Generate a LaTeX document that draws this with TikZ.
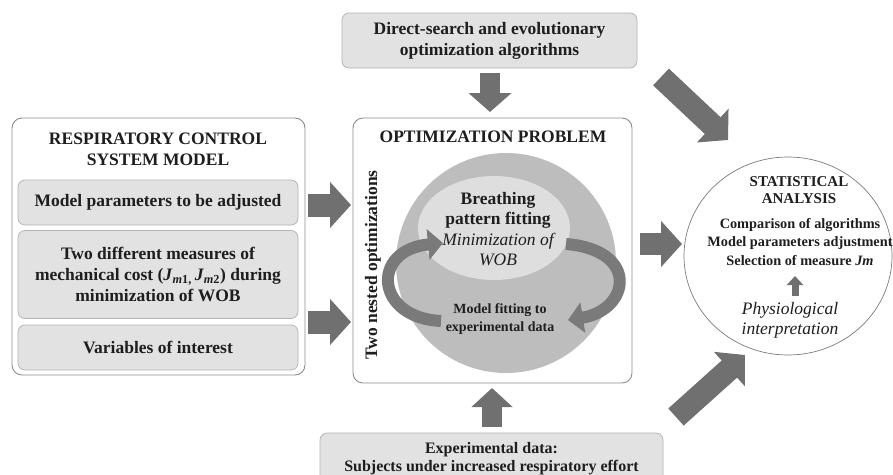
\documentclass[tikz,border=0pt]{standalone}
\usepackage{fontspec}
\setmainfont{Liberation Serif}
\usetikzlibrary{arrows.meta,shapes.geometric}
\definecolor{arrowgray}{HTML}{707070}
\definecolor{boxline}{HTML}{8C8C8C}
\definecolor{subfill}{HTML}{E2E2E2}
\definecolor{subline}{HTML}{B2B2B2}
\definecolor{bigcirc}{HTML}{BDBDBD}
\definecolor{ellfill}{HTML}{DEDEDE}
\definecolor{curvegray}{HTML}{7A7A7A}
\definecolor{statline}{HTML}{7C7C7C}
\definecolor{textcol}{HTML}{1E1E1E}
\tikzset{
  bigbox/.style={draw=boxline, fill=white, rounded corners=10pt, line width=0.9pt, inner sep=0pt},
  subbox/.style={draw=subline, fill=subfill, rounded corners=7pt, line width=0.7pt, inner sep=0pt, align=center},
  tbig/.style={font=\fontsize{17.5}{21}\selectfont\bfseries, text=textcol, inner sep=0pt, align=center},
  tmid/.style={font=\fontsize{16}{18}\selectfont\bfseries, text=textcol, inner sep=0pt, align=center},
  tsmall/.style={font=\fontsize{14}{18}\selectfont\bfseries, text=textcol, inner sep=0pt, align=center},
  tstat/.style={font=\fontsize{14.3}{18.5}\selectfont\bfseries, text=textcol, inner sep=0pt, align=center},
  tital/.style={font=\fontsize{17.5}{20}\selectfont\itshape, text=textcol, inner sep=0pt, align=center},
  blockarrow/.style={draw=arrowgray, line width=22pt, -{Triangle[width=45pt,length=21pt]}},
  vblockarrow/.style={draw=arrowgray, line width=20pt, -{Triangle[width=42pt,length=19pt]}},
  curvearrow/.style={draw=curvegray, line width=12pt, -{Triangle[width=30pt,length=15pt]}},
}
\begin{document}
\begin{tikzpicture}[x=1pt,y=-1pt]
\clip (0,0) rectangle (893,474);
\fill[white] (0,0) rectangle (893,474);

% ---------- left: model box ----------
\node[bigbox, minimum width=293pt, minimum height=257pt] (model) at (158.5,246.5) {};
\node[tbig] (modeltitle) at (158,149) {RESPIRATORY CONTROL\\SYSTEM MODEL};
\node[subbox, tbig, minimum width=280pt, minimum height=45pt] (par) at (158,202.5) {Model parameters to be adjusted};
\node[subbox, tbig, minimum width=280pt, minimum height=88pt] (cost) at (158,274.5)
  {Two different measures of\\mechanical cost (\textit{J}\textsubscript{\textit{m}1,}\,\textit{J}\textsubscript{\textit{m}2}) during\\minimization of WOB};
\node[subbox, tbig, minimum width=280pt, minimum height=45pt] (var) at (158,347.5) {Variables of interest};

% ---------- middle: optimization problem ----------
\node[bigbox, minimum width=279pt, minimum height=265pt] (opt) at (492.5,250.5) {};
\node[tbig] (opttitle) at (493,137) {OPTIMIZATION PROBLEM};
\node[circle, fill=bigcirc, minimum size=220pt, inner sep=0pt] (nest) at (506,263) {};
\node[ellipse, fill=ellfill, minimum width=152pt, minimum height=104pt, inner sep=0pt] (inner) at (494,228) {};
\node[inner sep=0pt, align=center, text=textcol, font=\fontsize{17.5}{20.5}\selectfont] (breath) at (498,229)
  {{\bfseries Breathing}\\{\bfseries pattern fitting}\\{\itshape Minimization of}\\{\itshape WOB}};
\node[tsmall] (mfit) at (500,319) {Model fitting to\\experimental data};
\node[tbig, rotate=90] (two) at (373,265) {Two nested optimizations};

\coordinate (l0) at (441,321);
\coordinate (l1) at (443,243);
\draw[curvearrow] (l0) .. controls (375,318) and (370,250) .. (l1);
\coordinate (r0) at (566,244);
\coordinate (r1) at (568,320);
\draw[curvearrow] (r0) .. controls (640,250) and (630,310) .. (r1);

% ---------- top and bottom boxes ----------
\node[subbox, tbig, minimum width=295pt, minimum height=55pt] (algo) at (489.5,40.5)
  {Direct-search and evolutionary\\optimization algorithms};
\node[subbox, tmid, minimum width=343pt, minimum height=52pt] (data) at (491.5,459)
  {Experimental data:\\Subjects under increased respiratory effort};

% ---------- right: statistical analysis ----------
\node[ellipse, draw=statline, fill=white, line width=0.7pt, minimum width=208pt, minimum height=198pt, inner sep=0pt] (stat) at (788,256) {};
\node[font=\fontsize{15}{16.5}\selectfont\bfseries, text=textcol, inner sep=0pt, align=center] (stattitle) at (799,190) {STATISTICAL\\ANALYSIS};
\node[tstat] (statitems) at (800,242) {Comparison of algorithms\\Model parameters adjustment\\Selection of measure \textit{Jm}};
\node[tital] (phys) at (790,320) {Physiological\\interpretation};
\coordinate (p0) at (795,296);
\coordinate (p1) at (795,276);
\draw[draw=arrowgray, line width=7pt, -{Triangle[width=16pt,length=9pt]}] (p0) -- (p1);

% ---------- block arrows ----------
\coordinate (a1s) at (308,205);
\coordinate (a1e) at (351,205);
\coordinate (a2s) at (308,322);
\coordinate (a2e) at (351,322);
\draw[blockarrow, line width=23pt] (a1s) -- (a1e);
\draw[blockarrow, line width=23pt] (a2s) -- (a2e);

\coordinate (tds) at (490,73);
\coordinate (tde) at (490,112);
\draw[vblockarrow] (tds) -- (tde);
\coordinate (bus) at (492,427);
\coordinate (bue) at (492,388);
\draw[vblockarrow, -{Triangle[width=40pt,length=19pt]}] (bus) -- (bue);

\coordinate (ms) at (640,244);
\coordinate (me) at (682,244);
\draw[blockarrow] (ms) -- (me);

\coordinate (ds1) at (661,77);
\coordinate (de1) at (728,140);
\draw[blockarrow, line width=23pt] (ds1) -- (de1);
\coordinate (ds2) at (676,417);
\coordinate (de2) at (745,355);
\draw[blockarrow, line width=23pt] (ds2) -- (de2);
\end{tikzpicture}
\end{document}
